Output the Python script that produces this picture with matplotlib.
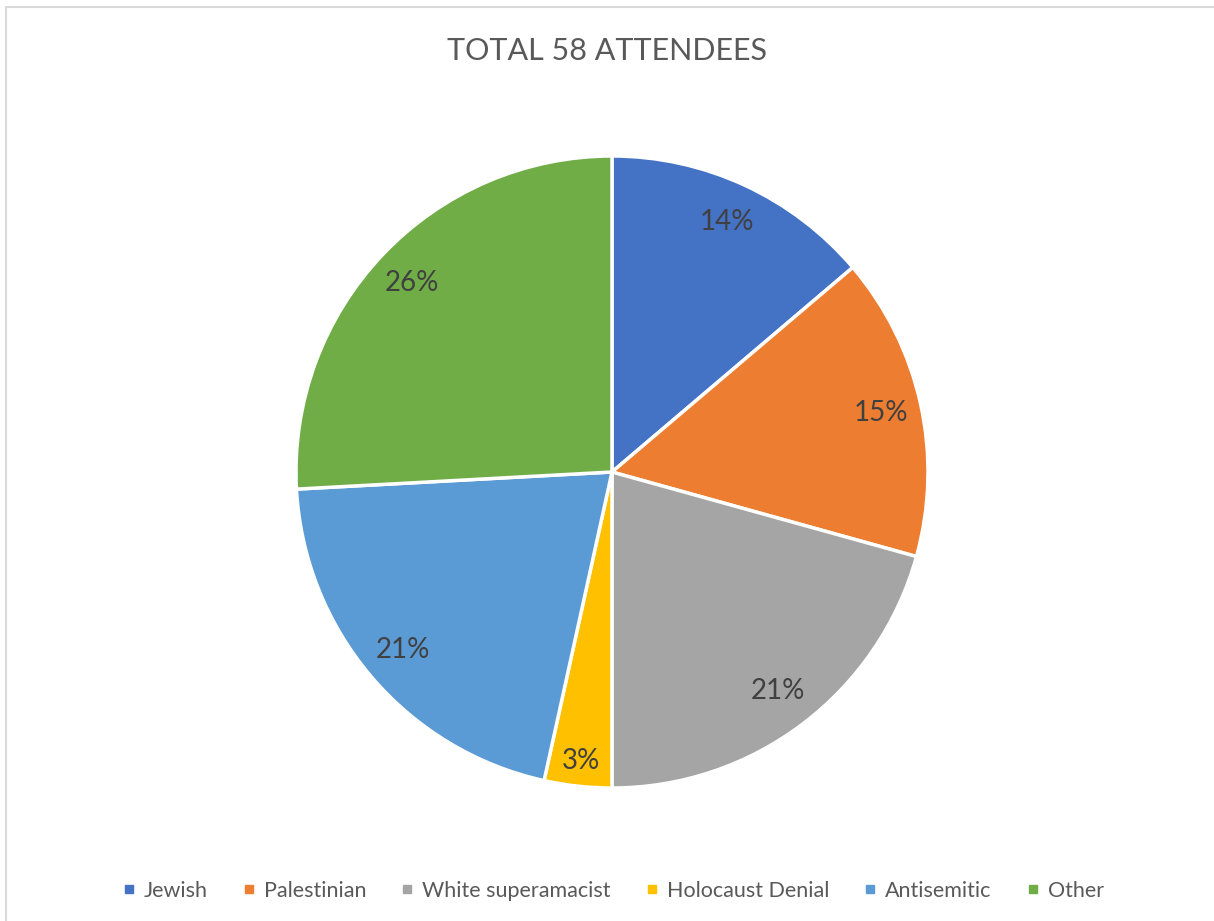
import matplotlib
matplotlib.use("Agg")
import matplotlib.pyplot as plt
import numpy as np
from matplotlib.lines import Line2D
from matplotlib.patches import Rectangle

TITLE = "TOTAL 58 ATTENDEES"
CATEGORIES = ["Jewish", "Palestinian", "White superamacist", "Holocaust Denial", "Antisemitic", "Other"]
COUNTS = [8, 9, 12, 2, 12, 15]
PCT_LABELS = ["14%", "15%", "21%", "3%", "21%", "26%"]
COLORS = ["#4472C4", "#ED7D31", "#A5A5A5", "#FFC000", "#5B9BD5", "#70AD47"]

plt.rcParams["font.family"] = ["Lato", "DejaVu Sans"]

W, H = 1214, 921
fig = plt.figure(figsize=(W / 100, H / 100), dpi=100)

# light chart-area border (right/bottom run off the picture)
fig.patches.append(Rectangle((6 / W, -0.01), 1.05, 1 - 7 / H + 0.01,
                             transform=fig.transFigure, fill=False,
                             edgecolor="#D9D9D9", linewidth=1.5))

cx, cy, r = 612, 472, 316
ax = fig.add_axes([(cx - r) / W, (H - cy - r) / H, 2 * r / W, 2 * r / H])
wedges, texts = ax.pie(
    COUNTS, colors=COLORS, startangle=90, counterclock=False,
    wedgeprops=dict(edgecolor="white", linewidth=2.5))
ax.set_xlim(-1, 1)
ax.set_ylim(-1, 1)
ax.set_aspect("equal")

# percentage labels near the outer edge of each slice
for i, (w, lab) in enumerate(zip(wedges, PCT_LABELS)):
    mid = np.deg2rad((w.theta1 + w.theta2) / 2)
    d = 0.92 if i == 3 else 0.87
    ax.text(d * np.cos(mid), d * np.sin(mid), lab, ha="center", va="center",
            fontsize=20, color="#404040")

fig.text(0.5, 1 - 51 / H, TITLE, ha="center", va="center",
         fontsize=22, color="#595959")

handles = [Line2D([], [], marker="s", linestyle="none", markersize=6,
                  markerfacecolor=c, markeredgecolor=c) for c in COLORS]
fig.legend(handles, CATEGORIES, loc="center", bbox_to_anchor=(0.505, 1 - 891 / H),
           ncol=6, frameon=False, fontsize=15.5, labelcolor="#595959",
           handlelength=0.6, handletextpad=0.4, columnspacing=1.6)

fig.savefig("out.png", dpi=100)
